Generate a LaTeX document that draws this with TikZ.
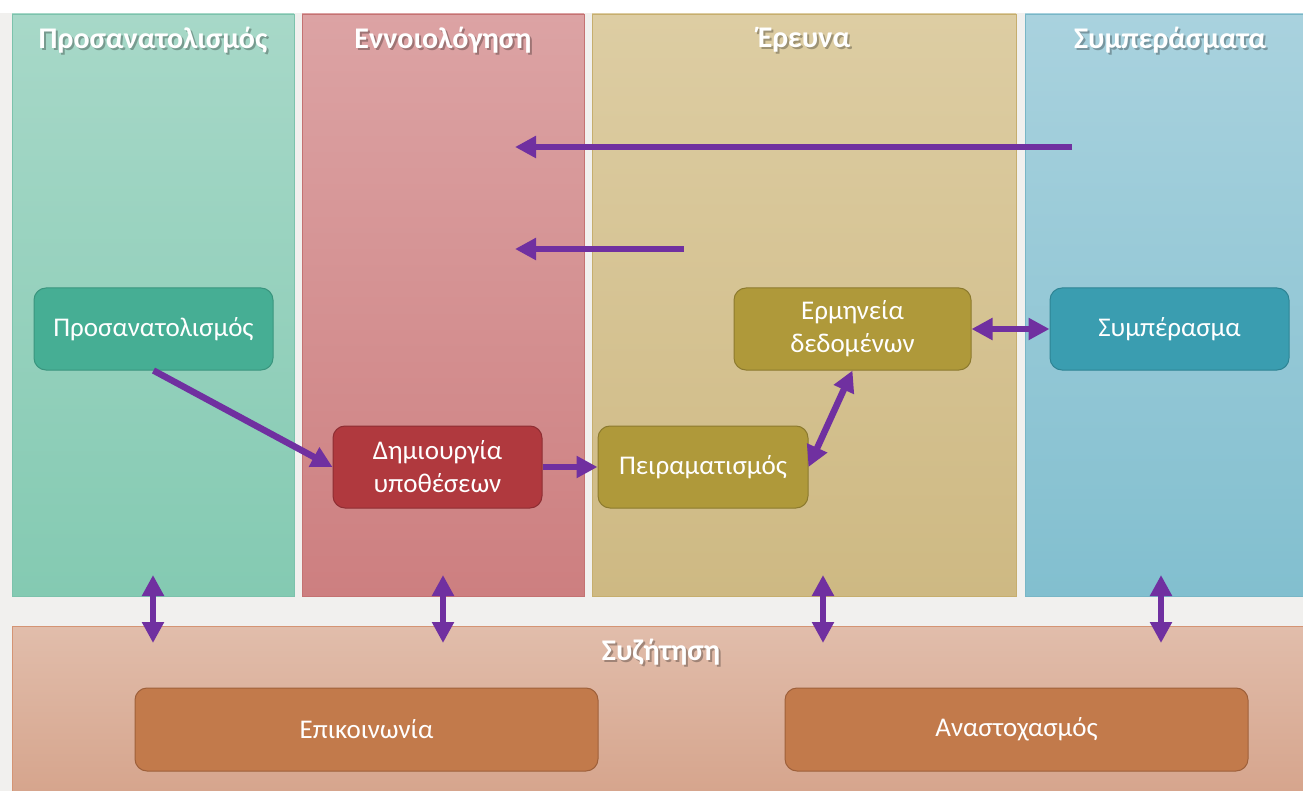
\documentclass[tikz,border=0pt]{standalone}
\usepackage{fontspec}
\setmainfont{Carlito}
\usetikzlibrary{arrows.meta}
\definecolor{bgc}{HTML}{F1F0EE}
\definecolor{c1t}{HTML}{A7D8C8}\definecolor{c1b}{HTML}{84CAB2}\definecolor{c1d}{HTML}{7CC2AC}
\definecolor{c2t}{HTML}{DCA3A4}\definecolor{c2b}{HTML}{CD7F80}\definecolor{c2d}{HTML}{C47272}
\definecolor{c3t}{HTML}{DDCDA3}\definecolor{c3b}{HTML}{CEB983}\definecolor{c3d}{HTML}{C6AE6E}
\definecolor{c4t}{HTML}{A9D2DE}\definecolor{c4b}{HTML}{82BFCF}\definecolor{c4d}{HTML}{78B6C6}
\definecolor{c5t}{HTML}{E1BDAB}\definecolor{c5b}{HTML}{D6A58D}\definecolor{c5d}{HTML}{D49474}
\definecolor{nteal}{HTML}{46AE94}\definecolor{nteald}{HTML}{3A957E}
\definecolor{nred}{HTML}{B0393E}\definecolor{nredd}{HTML}{8E2E33}
\definecolor{nolive}{HTML}{AF993A}\definecolor{nolived}{HTML}{8C7A2E}
\definecolor{nblue}{HTML}{3A9DB0}\definecolor{nblued}{HTML}{2E8494}
\definecolor{norange}{HTML}{C27A4B}\definecolor{noranged}{HTML}{9E603A}
\definecolor{arrowc}{HTML}{7030A0}
\tikzset{
  rbox/.style={draw=#1d, fill=#1, rounded corners=12pt, line width=1pt, text=white,
    font=\fontsize{27}{33}\selectfont, align=center, inner sep=0pt,
    minimum height=82pt},
  head/.style={text=white, font=\fontsize{30}{36}\selectfont\bfseries, inner sep=0pt},
  headsh/.style={text=black, opacity=0.28, font=\fontsize{30}{36}\selectfont\bfseries, inner sep=0pt},
  conn/.style={draw=arrowc, line width=6.5pt, -{Triangle[length=21pt,width=21pt]}},
  dconn/.style={draw=arrowc, line width=6.5pt, {Triangle[length=21pt,width=21pt]}-{Triangle[length=21pt,width=21pt]}}
}
\begin{document}
\begin{tikzpicture}[x=1pt,y=-1pt]
\useasboundingbox (0,0) rectangle (1303,791);
\fill[white] (0,0) rectangle (1303,791);
\fill[bgc] (0,13) rectangle (1303,791);
% columns
\shade[top color=c1t, bottom color=c1b] (12,14) rectangle (294,596);
\draw[c1d, line width=0.8pt] (12,14) rectangle (294,596);
\shade[top color=c2t, bottom color=c2b] (302,14) rectangle (584,596);
\draw[c2d, line width=0.8pt] (302,14) rectangle (584,596);
\shade[top color=c3t, bottom color=c3b] (592,14) rectangle (1016,596);
\draw[c3d, line width=0.8pt] (592,14) rectangle (1016,596);
\shade[top color=c4t, bottom color=c4b] (1025,14) rectangle (1303,596);
\draw[c4d, line width=0.8pt] (1025,596) -- (1025,14) -- (1303,14);
\draw[c4d, line width=0.8pt] (1025,596) -- (1303,596);
\shade[top color=c5t, bottom color=c5b] (12,626) rectangle (1303,791);
\draw[c5d, line width=0.8pt] (12,791) -- (12,626) -- (1303,626);
% headings
\node[headsh] (s1) at (155,42) {Προσανατολισμός};
\node[head] (h1) at (153,40) {Προσανατολισμός};
\node[headsh] (s2) at (445,42) {Εννοιολόγηση};
\node[head] (h2) at (443,40) {Εννοιολόγηση};
\node[headsh] (s3) at (806,42) {Έρευνα};
\node[head] (h3) at (804,40) {Έρευνα};
\node[headsh] (s4) at (1172,42) {Συμπεράσματα};
\node[head] (h4) at (1170,40) {Συμπεράσματα};
\node[headsh] (s5) at (663,654) {Συζήτηση};
\node[head] (h5) at (661,652) {Συζήτηση};
% boxes
\node[rbox=nteal, minimum width=239pt] (p) at (153.5,329) {Προσανατολισμός};
\node[rbox=nred, minimum width=209pt] (d) at (437.5,467) {Δημιουργία\\υποθέσεων};
\node[rbox=nolive, minimum width=210pt] (x) at (703,467) {Πειραματισμός};
\node[rbox=nolive, minimum width=237pt] (e) at (852.5,329) {Ερμηνεία\\δεδομένων};
\node[rbox=nblue, minimum width=239pt] (c) at (1169.5,329) {Συμπέρασμα};
\node[rbox=norange, minimum width=463pt, minimum height=83pt] (k) at (366.5,729.5) {Επικοινωνία};
\node[rbox=norange, minimum width=463pt, minimum height=83pt] (a) at (1016.5,729.5) {Αναστοχασμός};
% connectors
\coordinate (t1a) at (1072,147); \coordinate (t1b) at (515,147);
\coordinate (t2a) at (684,249); \coordinate (t2b) at (515,249);
\draw[conn] (t1a) -- (t1b);
\draw[conn] (t2a) -- (t2b);
\draw[conn] (p.south) -- (d.west);
\draw[conn] (d.east) -- (x.west);
\draw[dconn] (x.east) -- (e.south);
\draw[dconn] (e.east) -- (c.west);
\coordinate (v1a) at (153,575); \coordinate (v1b) at (153,643);
\coordinate (v2a) at (443,575); \coordinate (v2b) at (443,643);
\coordinate (v3a) at (823,575); \coordinate (v3b) at (823,643);
\coordinate (v4a) at (1161,575); \coordinate (v4b) at (1161,643);
\draw[dconn] (v1a) -- (v1b);
\draw[dconn] (v2a) -- (v2b);
\draw[dconn] (v3a) -- (v3b);
\draw[dconn] (v4a) -- (v4b);
\end{tikzpicture}
\end{document}
